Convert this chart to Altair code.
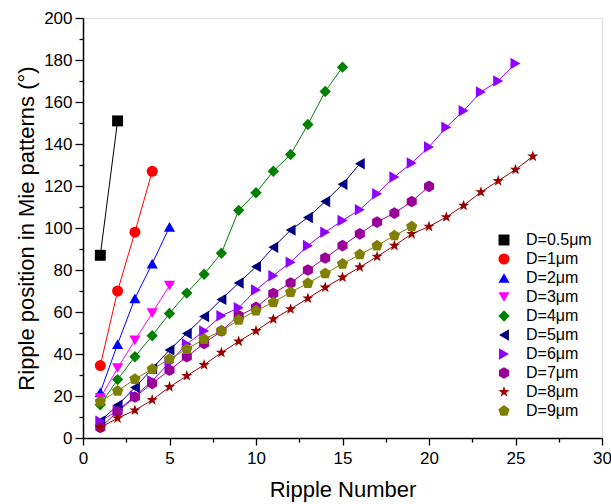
import altair as alt
import pandas as pd

# ---------------- data ----------------
series_names = ["D=0.5μm", "D=1μm", "D=2μm", "D=3μm", "D=4μm",
                "D=5μm", "D=6μm", "D=7μm", "D=8μm", "D=9μm"]

d05 = [87, 151]
d1 = [34.5, 70, 98, 127]
d2 = [21.8, 44.7, 66.5, 83, 100.5]
d3 = [19, 33.3, 46.5, 59.5, 72.6]
d4 = [15.8, 27.8, 38.7, 48.7, 59.3, 69, 78, 88, 108.4, 116.8, 127, 135, 149.3, 165, 176.6]
d5 = [8, 15.6, 24, 33, 41.9, 49.8, 57.9, 66, 73.8, 81.6, 90.8, 99, 105, 112.6, 120.8, 130.6]
d6 = [8, 13, 20, 27.2, 36, 44.7, 51, 58.2, 62, 70.5, 77.3, 83.7, 91.6, 98, 103.6, 108.7,
      116.3, 124.3, 131, 138.6, 148, 155.8, 164.8, 170, 178.3]
d7 = [5, 12.5, 19.5, 26, 32.3, 38.7, 45, 51, 58.2, 62.2, 68.8, 73.8, 80, 85.7, 91.6, 97.2,
      102.8, 107.1, 112.6, 119.8]
d8 = [5, 9.4, 13.2, 18.1, 24.3, 29.6, 34.8, 40.7, 46, 51, 56.6, 61.4, 66.5, 71.7, 76.5,
      81.3, 86.4, 91.6, 97.2, 100.7, 105.2, 110.7, 117.1, 122.4, 127.8, 134.1]
d9 = [17.3, 22.4, 28, 32.8, 37.6, 42.3, 47.1, 51, 56.2, 60.6, 64.6, 69.4, 73.7, 78.4, 82.9,
      87.4, 91.6, 96.4, 100.7]

all_series = [d05, d1, d2, d3, d4, d5, d6, d7, d8, d9]

x_major = [0, 5, 10, 15, 20, 25, 30]
x_minor = [2.5, 7.5, 12.5, 17.5, 22.5, 27.5]
y_major = [0, 20, 40, 60, 80, 100, 120, 140, 160, 180, 200]
y_minor = [10, 30, 50, 70, 90, 110, 130, 150, 170, 190]

colors = ["#000000", "#FF0000", "#0000FF", "#FF00FF", "#008000",
          "#000080", "#8F00FF", "#990099", "#990000", "#808000"]

STAR = ("M0,-1L0.235,-0.324L0.951,-0.309L0.380,0.124L0.588,0.809L0,0.4"
        "L-0.588,0.809L-0.380,0.124L-0.951,-0.309L-0.235,-0.324Z")
HEX = "M0,-1L0.866,-0.5L0.866,0.5L0,1L-0.866,0.5L-0.866,-0.5Z"
PENT = "M0,-1L0.951,-0.309L0.588,0.809L-0.588,0.809L-0.951,-0.309Z"
shapes = ["square", "circle", "triangle-up", "triangle-down", "diamond",
          "triangle-left", "triangle-right", HEX, STAR, PENT]
marker_sizes = [120, 140, 140, 140, 140, 140, 140, 165, 200, 170]

rows = []
for name, vals in zip(series_names, all_series):
    for i, v in enumerate(vals):
        rows.append({"series": name, "n": i + 1, "pos": v})
df = pd.DataFrame(rows)

FONT = "Arial, Liberation Sans, sans-serif"

xscale = alt.Scale(domain=[0, 30], nice=False, zero=False)
yscale = alt.Scale(domain=[0, 200], nice=False, zero=False)
cscale = alt.Scale(domain=series_names, range=colors)
sscale = alt.Scale(domain=series_names, range=shapes)
zscale = alt.Scale(domain=series_names, range=marker_sizes)

legend = alt.Legend(
    title=None, orient="none", legendX=413, legendY=214,
    labelFontSize=16, labelFont=FONT, labelColor="black",
    symbolSize=95, symbolStrokeWidth=0, rowPadding=3, labelOffset=14,
    symbolOffset=0,
)

major_x_axis = alt.Axis(values=x_major, orient="bottom", title="Ripple Number",
                        titleFontSize=22, titleFont=FONT, titleFontWeight="normal",
                        titleColor="black", titlePadding=13,
                        labelFontSize=17, labelFont=FONT, labelColor="black",
                        labelPadding=5, labelFlush=False,
                        tickSize=7, tickWidth=1.3, tickColor="black",
                        domainColor="black", domainWidth=1.5, grid=False, format="d")
major_y_axis = alt.Axis(values=y_major, orient="left",
                        title="Ripple position in Mie patterns (°)",
                        titleFontSize=22, titleFont=FONT, titleFontWeight="normal",
                        titleColor="black", titlePadding=5,
                        labelFontSize=17, labelFont=FONT, labelColor="black",
                        labelPadding=3, labelFlush=False,
                        tickSize=8, tickWidth=1.3, tickColor="black",
                        domainColor="black", domainWidth=1.5, grid=False, format="d")
minor_x_axis = alt.Axis(values=x_minor, orient="bottom", labels=False, title="",
                        tickSize=4, tickWidth=1.3, tickColor="black",
                        domain=False, grid=False)
minor_y_axis = alt.Axis(values=y_minor, orient="left", labels=False, title="",
                        tickSize=4, tickWidth=1.3, tickColor="black",
                        domain=False, grid=False)

base = alt.Chart(df)

lines = base.mark_line(strokeWidth=1).encode(
    x=alt.X("n:Q", scale=xscale, axis=major_x_axis),
    y=alt.Y("pos:Q", scale=yscale, axis=major_y_axis),
    color=alt.Color("series:N", scale=cscale, legend=legend),
    detail="series:N",
)

points = base.mark_point(filled=True, opacity=1).encode(
    x=alt.X("n:Q", scale=xscale, axis=None),
    y=alt.Y("pos:Q", scale=yscale, axis=None),
    color=alt.Color("series:N", scale=cscale, legend=legend),
    shape=alt.Shape("series:N", scale=sscale, legend=legend),
    size=alt.Size("series:N", scale=zscale, legend=None),
)

minor = base.mark_point(opacity=0).encode(
    x=alt.X("n:Q", scale=xscale, axis=minor_x_axis),
    y=alt.Y("pos:Q", scale=yscale, axis=minor_y_axis),
)

chart = alt.layer(lines, points, minor).resolve_axis(
    x="independent", y="independent"
).properties(
    width=519, height=420,
    autosize=alt.AutoSizeParams(type="none"),
    padding={"left": 83, "top": 18, "right": 9, "bottom": 66},
).configure_view(
    stroke="black", strokeWidth=1.5
).configure(background="white")

chart.save("out.html", embed_options={"renderer": "svg", "actions": False})
